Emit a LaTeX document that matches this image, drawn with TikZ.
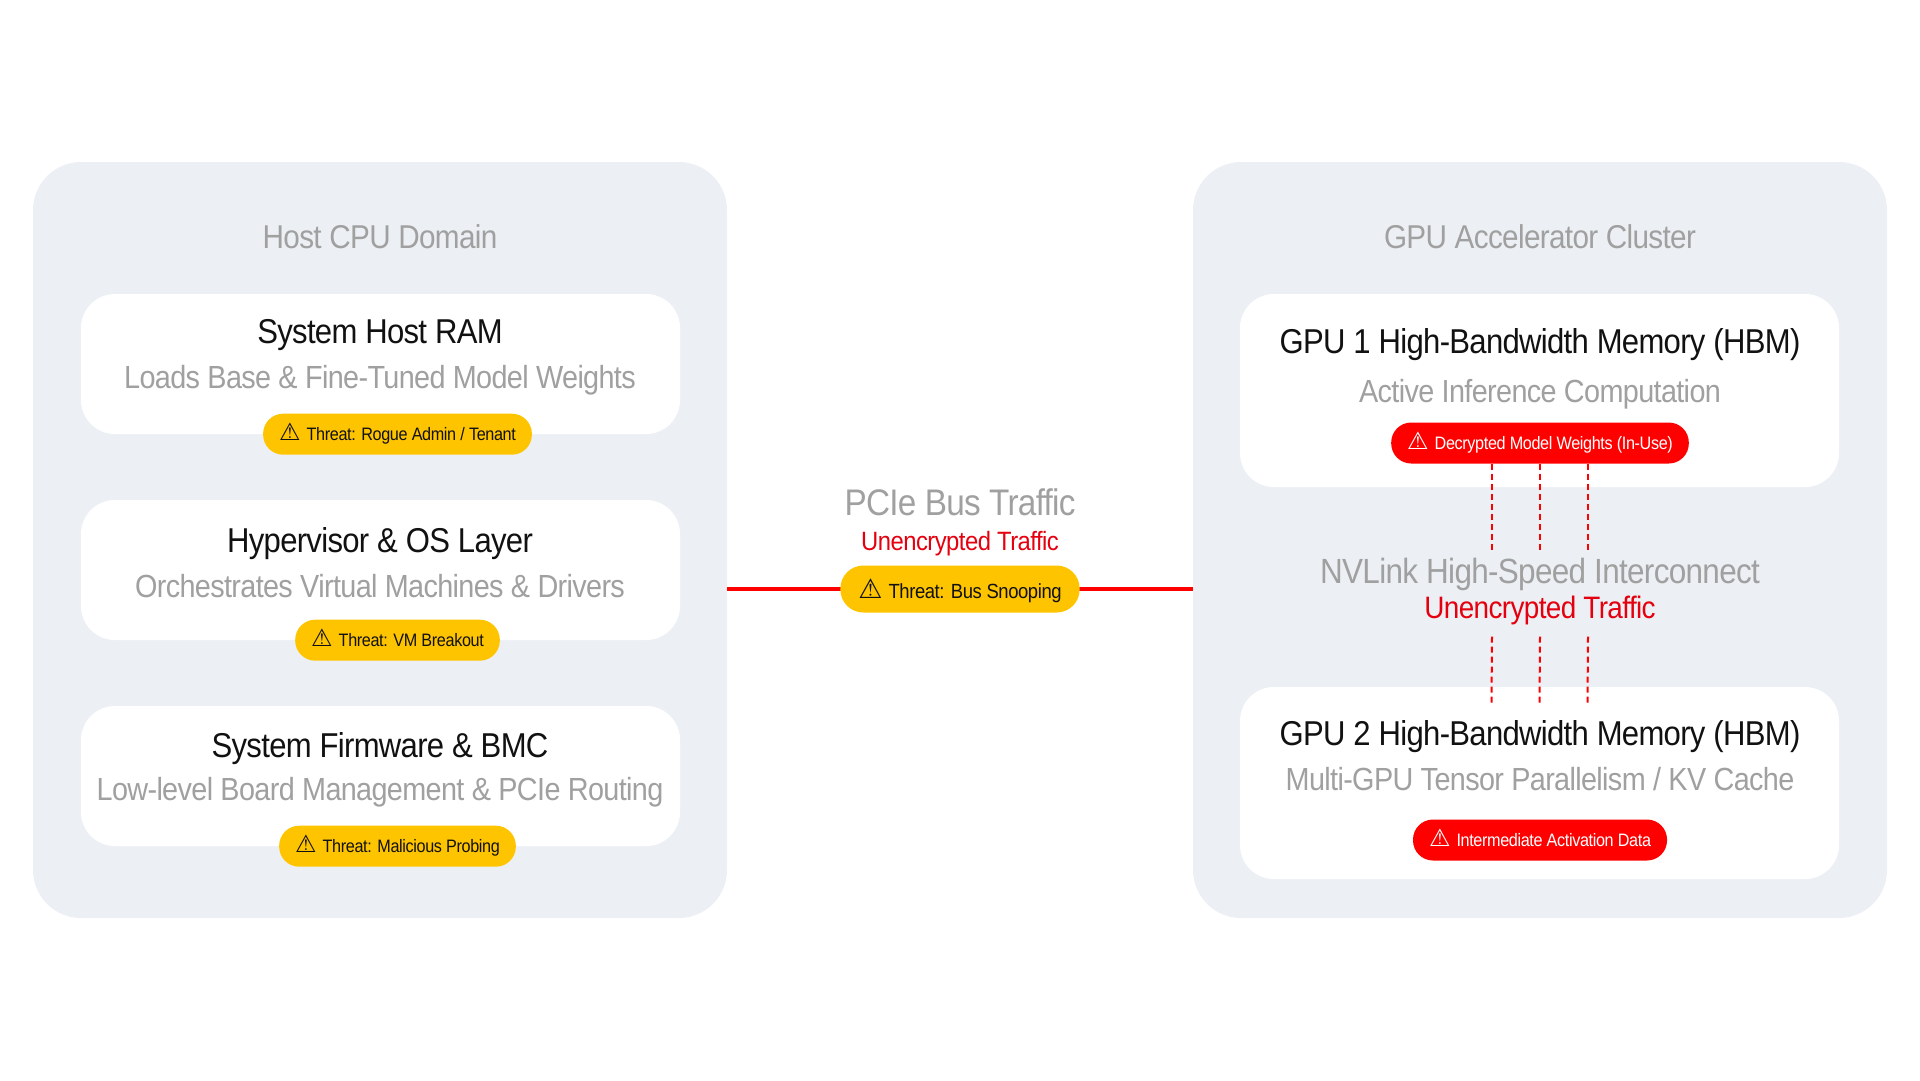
\documentclass[tikz,border=0pt]{standalone}
\usepackage{fontspec}
\setmainfont{Liberation Sans}[FakeStretch=0.9,LetterSpace=-2]
\newfontfamily\iconfont{DejaVu Sans}
\usepackage{tikz}

\definecolor{panelbg}{HTML}{ECF0F4}
\definecolor{threatyellow}{HTML}{FFC400}
\definecolor{alertred}{HTML}{FF0000}
\definecolor{trafficred}{HTML}{E5000F}
\definecolor{softgray}{HTML}{A0A0A0}
\definecolor{inkblack}{HTML}{111111}

\newcommand{\warnicon}[1]{{\iconfont\fontsize{#1}{#1}\selectfont ⚠}\hspace{6pt}}

\tikzset{
  panel/.style={fill=panelbg, rounded corners=48pt, minimum width=694pt, minimum height=756pt, inner sep=0pt},
  card/.style={fill=white, rounded corners=34pt, minimum width=599pt, inner sep=0pt},
  paneltitle/.style={anchor=base, inner sep=0pt, text=softgray, font=\fontsize{33}{36}\selectfont},
  cardtitle/.style={anchor=base, inner sep=0pt, text=inkblack, font=\fontsize{34.5}{38}\selectfont},
  cardsub/.style={anchor=base, inner sep=0pt, text=softgray, font=\fontsize{32}{36}\selectfont},
  badge/.style={rounded corners=20pt, minimum height=41pt, inner xsep=16pt, inner ysep=0pt,
    text height=16pt, text depth=4pt, font=\fontsize{18}{20}\selectfont},
  yellowbadge/.style={badge, fill=threatyellow, text=inkblack},
  redbadge/.style={badge, fill=alertred, text=white},
  busline/.style={draw=alertred, line width=4.5pt},
  nvdash/.style={draw=alertred, line width=2pt, dash pattern=on 6pt off 4pt}
}

\begin{document}
\begin{tikzpicture}[x=1pt,y=-1pt]
  \useasboundingbox (0,0) rectangle (1920,1080);

  % Domains
  \node[panel] (hostpanel) at (380,540) {};
  \node[panel] (gpupanel) at (1540,540) {};
  \node[paneltitle] (hosttitle) at (380,248) {Host CPU Domain};
  \node[paneltitle] (gputitle) at (1540,248) {GPU Accelerator Cluster};

  % Host side
  \node[card, minimum height=140pt] (ramcard) at (380.5,364) {};
  \node[cardtitle] (ramtitle) at (380,343) {System Host RAM};
  \node[cardsub] (ramsub) at (380,388) {Loads Base \& Fine-Tuned Model Weights};
  \node[yellowbadge] (rambadge) at ([xshift=17pt]ramcard.south) {\warnicon{24}Threat: Rogue Admin / Tenant};

  \node[card, minimum height=140pt] (oscard) at (380.5,570) {};
  \node[cardtitle] (ostitle) at (380,552) {Hypervisor \& OS Layer};
  \node[cardsub] (ossub) at (380,597) {Orchestrates Virtual Machines \& Drivers};
  \node[yellowbadge] (osbadge) at ([xshift=17pt]oscard.south) {\warnicon{24}Threat: VM Breakout};

  \node[card, minimum height=140pt] (bmccard) at (380.5,776) {};
  \node[cardtitle] (bmctitle) at (380,757) {System Firmware \& BMC};
  \node[cardsub] (bmcsub) at (380,800) {Low-level Board Management \& PCIe Routing};
  \node[yellowbadge] (bmcbadge) at ([xshift=17pt]bmccard.south) {\warnicon{24}Threat: Malicious Probing};

  % PCIe link
  \draw[busline] ([yshift=-49pt]hostpanel.east) -- ([yshift=-49pt]gpupanel.west);
  \node[cardsub, text=softgray, font=\fontsize{37}{40}\selectfont] (pcietitle) at (960,515) {PCIe Bus Traffic};
  \node[cardsub, text=trafficred, font=\fontsize{26.5}{30}\selectfont] (pcienote) at (960,550) {Unencrypted Traffic};
  \node[yellowbadge, minimum height=47pt, rounded corners=23pt, text height=22pt, text depth=4pt,
    inner xsep=18pt, font=\fontsize{20.5}{22}\selectfont] (busbadge) at (960,589) {\warnicon{27}Threat: Bus Snooping};

  % GPU side
  \node[card, minimum height=193pt] (gpuonecard) at (1539.5,390.5) {};
  \node[cardtitle] (gpuonetitle) at (1540,353) {GPU 1 High-Bandwidth Memory (HBM)};
  \node[cardsub] (gpuonesub) at (1540,402) {Active Inference Computation};
  \node[redbadge] (gpuonebadge) at (1540,443) {\warnicon{24}Decrypted Model Weights (In-Use)};

  \node[card, minimum height=192pt] (gputwocard) at (1539.5,783) {};
  \node[cardtitle] (gputwotitle) at (1540,745) {GPU 2 High-Bandwidth Memory (HBM)};
  \node[cardsub] (gputwosub) at (1540,790) {Multi-GPU Tensor Parallelism / KV Cache};
  \node[redbadge] (gputwobadge) at (1540,840) {\warnicon{24}Intermediate Activation Data};

  \node[cardsub, font=\fontsize{35}{38}\selectfont] (nvlink) at (1540,583) {NVLink High-Speed Interconnect};
  \node[cardsub, text=trafficred, font=\fontsize{31}{34}\selectfont] (nvnote) at (1540,618) {Unencrypted Traffic};

  \foreach \dx in {-48,0,48} {
    \draw[nvdash] ([xshift=\dx pt]gpuonebadge.south) -- ([xshift=\dx pt, yshift=6pt]nvlink.north);
    \draw[nvdash] ([xshift=\dx pt, yshift=-12pt]nvnote.south) -- ([xshift=\dx pt, yshift=-16pt]gputwocard.north);
  }
\end{tikzpicture}
\end{document}
